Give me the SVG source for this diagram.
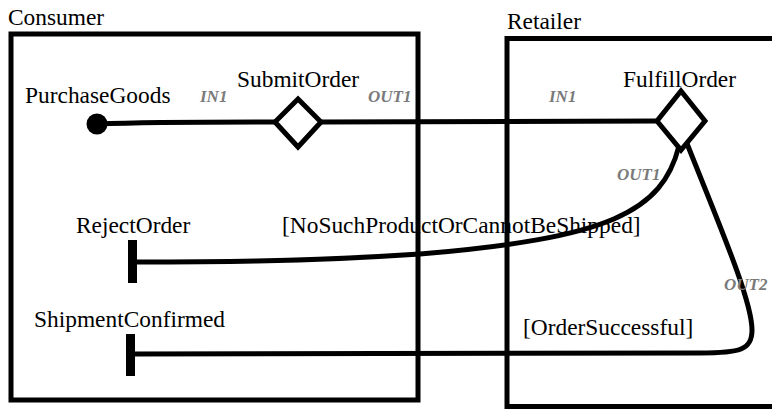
<svg xmlns="http://www.w3.org/2000/svg" width="772" height="409" viewBox="0 0 772 409">
<style>
.box{fill:none;stroke:#000;stroke-width:5}
.conn{fill:none;stroke:#000;stroke-width:5}
.dia{fill:#fff;stroke:#000;stroke-width:5}
.bar{fill:#000}
</style>
<rect width="772" height="409" fill="#fff"/>
<g id="consumer">
<rect class="box" x="11" y="34" width="407" height="366"/>
<text x="8" y="25" font-family="'Liberation Serif', serif" font-size="23.4">Consumer</text>
</g>
<g id="retailer">
<rect class="box" x="507" y="38.5" width="300" height="368"/>
<text x="507" y="29" font-family="'Liberation Serif', serif" font-size="23.4">Retailer</text>
</g>
<g id="connectors">
<path class="conn" d="M97 124 C150 122 220 122 276 122"/>
<path class="conn" d="M321 122 L657 121"/>
<path class="conn" d="M679 146 C662 212 610 238 420 254 C300 262 200 262 133 262"/>
<path class="conn" d="M686 141 C718 222 752 300 752 330 C752 350 740 353 700 353 C600 354 420 353 134 354"/>
</g>
<g id="purchaseGoods">
<circle cx="97" cy="124" r="10.5" fill="#000"/>
<text x="25" y="103" font-family="'Liberation Serif', serif" font-size="23.4">PurchaseGoods</text>
</g>
<g id="submitOrder">
<polygon class="dia" points="298,99 321,122 298,147 275,122"/>
<text x="237" y="87" font-family="'Liberation Serif', serif" font-size="23.4">SubmitOrder</text>
<text x="200" y="102" font-family="'Liberation Serif', serif" font-size="17" font-weight="bold" font-style="italic" fill="#7a7a7a">IN1</text>
<text x="368" y="102" font-family="'Liberation Serif', serif" font-size="17" font-weight="bold" font-style="italic" fill="#7a7a7a">OUT1</text>
</g>
<g id="fulfillOrder">
<polygon class="dia" points="681,91 705,121 681,150 657,121"/>
<text x="623" y="87" font-family="'Liberation Serif', serif" font-size="23.4">FulfillOrder</text>
<text x="549" y="102" font-family="'Liberation Serif', serif" font-size="17" font-weight="bold" font-style="italic" fill="#7a7a7a">IN1</text>
<text x="617" y="180" font-family="'Liberation Serif', serif" font-size="17" font-weight="bold" font-style="italic" fill="#7a7a7a">OUT1</text>
<text x="724" y="290" font-family="'Liberation Serif', serif" font-size="17" font-weight="bold" font-style="italic" fill="#7a7a7a">OUT2</text>
</g>
<g id="rejectOrder">
<rect class="bar" x="128" y="240" width="9" height="43"/>
<text x="76" y="233" font-family="'Liberation Serif', serif" font-size="23.4">RejectOrder</text>
</g>
<g id="shipmentConfirmed">
<rect class="bar" x="126" y="334" width="9" height="42"/>
<text x="34" y="327" font-family="'Liberation Serif', serif" font-size="23.4">ShipmentConfirmed</text>
</g>
<g id="guards">
<text x="282" y="233" font-family="'Liberation Serif', serif" font-size="23.4">[NoSuchProductOrCannotBeShipped]</text>
<text x="523" y="335" font-family="'Liberation Serif', serif" font-size="23.4">[OrderSuccessful]</text>
</g>
</svg>
